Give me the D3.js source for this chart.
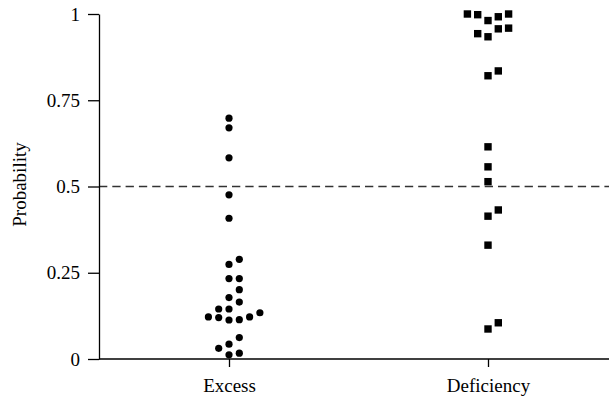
<!DOCTYPE html>
<html>
<head>
<meta charset="utf-8">
<script src="https://cdnjs.cloudflare.com/ajax/libs/d3/7.8.5/d3.min.js"></script>
<style>
  body { margin: 0; background: #fff; }
  svg { display: block; }
  text { font-family: "Liberation Serif", "DejaVu Serif", serif; }
</style>
</head>
<body>
<script>
var width = 609
var height = 402
var margin = { top: 14, right: 0, bottom: 43, left: 99 }
var plot_w = width - margin.left - margin.right
var plot_h = height - margin.top - margin.bottom

var groups = ["Excess", "Deficiency"]
// values listed in the order they are stacked into the swarm
var excess = [0.670, 0.583, 0.476, 0.408, 0.274, 0.233, 0.178, 0.145, 0.113, 0.043, 0.012,
              0.698, 0.289, 0.017, 0.201, 0.165, 0.114, 0.233, 0.145, 0.120, 0.122, 0.122,
              0.134, 0.062, 0.031]
var deficiency = [0.981, 0.934, 0.821, 0.615, 0.557, 0.514, 0.414, 0.330, 0.087,
                  0.835, 0.432, 0.105, 0.992, 0.957, 0.998, 0.943, 1.000, 1.000, 0.959]
var y_ticks = [0, 0.25, 0.5, 0.75, 1]
var y_tick_labels = ["0", "0.25", "0.5", "0.75", "1"]
var cutoff = 0.5

var font = '"Liberation Serif", "DejaVu Serif", serif'
var slot_gap = 10.3
var overlap = 8.3

var x = d3.scalePoint()
.domain(groups)
.range([130, 389])

var y = d3.scaleLinear()
.domain([0, 1])
.range([plot_h, 0])

var svg = d3.select("body").append("svg")
.attr("width", width)
.attr("height", height)

var g = svg.append("g")
.attr("transform", "translate(" + margin.left + "," + margin.top + ")")

// simple swarm: each point takes the first free column next to the centre
function swarm(values) {
    var order = [0, 1, -1, 2, -2, 3, -3, 4, -4]
    var placed = []
    return values.map(function(v) {
        var py = y(v)
        var slot = order.find(function(s) {
            return !placed.some(function(p) { return p.slot == s && Math.abs(p.py - py) < overlap })
        })
        placed.push({ slot: slot, py: py })
        return { value: v, slot: slot }
    })
}

// cut-off line
g.append("line")
.attr("x1", 0)
.attr("x2", plot_w)
.attr("y1", y(cutoff))
.attr("y2", y(cutoff))
.attr("stroke", "#333")
.attr("stroke-width", 1.3)
.style("stroke-dasharray", ("8.3, 5"))

// y axis
var y_axis = g.append("g")
.call(d3.axisLeft(y)
    .tickValues(y_ticks)
    .tickFormat(function(d, i) { return y_tick_labels[i] })
    .tickSize(11)
    .tickSizeOuter(0)
    .tickPadding(8))
.attr("font-family", font)
y_axis.selectAll("path, line").attr("stroke", "#000").attr("stroke-width", 1.3)
y_axis.selectAll("text")
.style("font-family", font)
.style("font-size", "19px")
.attr("fill", "#000")

// x axis
var x_axis = g.append("g")
.attr("transform", "translate(0," + plot_h + ")")
.call(d3.axisBottom(x)
    .tickSize(8)
    .tickSizeOuter(0)
    .tickPadding(12))
.attr("font-family", font)
x_axis.select(".domain").remove()
x_axis.append("line")
.attr("x1", 0)
.attr("x2", plot_w)
.attr("stroke", "#000")
.attr("stroke-width", 1.3)
x_axis.selectAll(".tick line").attr("stroke", "#000").attr("stroke-width", 1.3)
x_axis.selectAll("text")
.style("font-family", font)
.style("font-size", "19px")
.attr("fill", "#000")

g.append("text")
.attr("transform", "rotate(-90)")
.attr("x", -(y(cutoff)) + 2)
.attr("y", 26 - margin.left)
.style("text-anchor", "middle")
.style("font-family", font)
.style("font-size", "19px")
.text("Probability")

// excess: circles
g.append("g")
.selectAll("circle")
.data(swarm(excess))
.enter().append("circle")
.attr("cx", function(d) { return x("Excess") + d.slot * slot_gap })
.attr("cy", function(d) { return y(d.value) })
.attr("r", 3.6)
.style("fill", "#000")

// deficiency: squares
var side = 7.4
g.append("g")
.selectAll("rect")
.data(swarm(deficiency))
.enter().append("rect")
.attr("x", function(d) { return x("Deficiency") + d.slot * slot_gap - side / 2 })
.attr("y", function(d) { return y(d.value) - side / 2 })
.attr("width", side)
.attr("height", side)
.style("fill", "#000")
</script>
</body>
</html>
